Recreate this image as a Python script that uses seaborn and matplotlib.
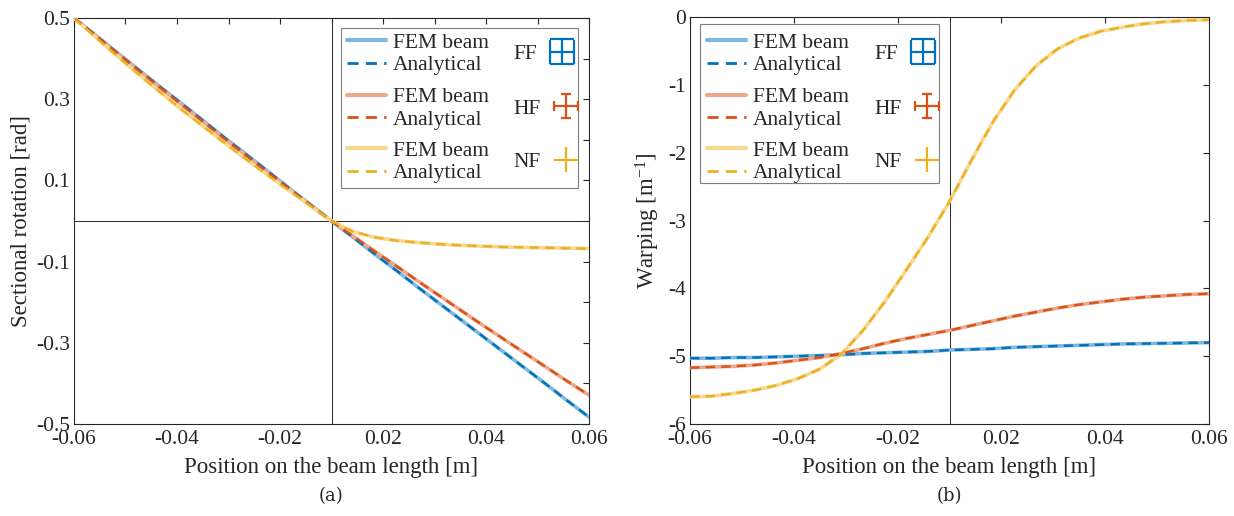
import numpy as np
import pandas as pd
import matplotlib
matplotlib.use("Agg")
import matplotlib.pyplot as plt
import seaborn as sns
from matplotlib.lines import Line2D
from matplotlib.patches import Rectangle
from matplotlib.legend import Legend
from matplotlib.container import ErrorbarContainer
from matplotlib.legend_handler import HandlerErrorbar

# ---------------- data ----------------
x_pos = [-0.060, -0.055, -0.050, -0.045, -0.040, -0.035, -0.030, -0.025, -0.020,
         -0.015, -0.010, -0.005, 0.000, 0.005, 0.010, 0.015, 0.020, 0.025,
         0.030, 0.035, 0.040, 0.045, 0.050, 0.055, 0.060]

rot_ff = [0.500, 0.458, 0.415, 0.373, 0.331, 0.290, 0.248, 0.206, 0.165, 0.124,
          0.082, 0.041, 0.000, -0.040, -0.081, -0.121, -0.162, -0.202, -0.242,
          -0.282, -0.322, -0.362, -0.402, -0.443, -0.483]
rot_hf = [0.500, 0.457, 0.414, 0.371, 0.329, 0.287, 0.245, 0.203, 0.162, 0.121,
          0.080, 0.040, 0.000, -0.037, -0.074, -0.110, -0.147, -0.183, -0.219,
          -0.255, -0.290, -0.325, -0.360, -0.395, -0.429]
rot_nf = [0.500, 0.453, 0.407, 0.362, 0.318, 0.275, 0.234, 0.193, 0.153, 0.114,
          0.076, 0.038, 0.000, -0.026, -0.040, -0.048, -0.053, -0.057, -0.060,
          -0.062, -0.064, -0.065, -0.066, -0.067, -0.068]

warp_ff = [-5.03, -5.03, -5.02, -5.02, -5.01, -5.00, -4.99, -4.98, -4.96, -4.95,
           -4.94, -4.93, -4.91, -4.90, -4.89, -4.87, -4.86, -4.85, -4.84, -4.83,
           -4.82, -4.815, -4.81, -4.805, -4.80]
warp_hf = [-5.17, -5.16, -5.15, -5.13, -5.10, -5.06, -5.02, -4.96, -4.89, -4.81,
           -4.74, -4.68, -4.62, -4.55, -4.48, -4.41, -4.35, -4.29, -4.24, -4.20,
           -4.16, -4.13, -4.11, -4.09, -4.08]
warp_nf = [-5.60, -5.59, -5.55, -5.50, -5.43, -5.33, -5.19, -4.97, -4.62, -4.20,
           -3.73, -3.25, -2.72, -2.12, -1.55, -1.08, -0.72, -0.47, -0.31, -0.21,
           -0.15, -0.10, -0.07, -0.05, -0.04]

cases = ["FF", "HF", "NF"]
legend_labels = ["FEM beam", "Analytical"]

x_ticks_a = np.linspace(-0.06, 0.06, 11)
x_ticklabels_a = ["-0.06", "", "-0.04", "", "-0.02", "", "0.02", "", "0.04", "", "0.06"]
x_ticks_b = np.linspace(-0.06, 0.06, 6)
x_ticklabels_b = ["-0.06", "-0.04", "-0.02", "0.02", "0.04", "0.06"]
y_ticks_a = np.round(np.arange(-0.5, 0.51, 0.1), 2)
y_ticklabels_a = ["-0.5", "", "-0.3", "", "-0.1", "", "0.1", "", "0.3", "", "0.5"]
y_ticks_b = np.arange(-6, 1, 1)
y_ticklabels_b = ["-6", "-5", "-4", "-3", "-2", "-1", "0"]

# ---------------- style ----------------
sns.set_theme(style="white")
plt.rcParams["font.family"] = ["Liberation Serif", "DejaVu Serif"]
plt.rcParams["mathtext.fontset"] = "custom"
plt.rcParams["mathtext.rm"] = "Liberation Serif"
plt.rcParams["mathtext.it"] = "Liberation Serif:italic"

dark = {"FF": "#0072BD", "HF": "#D95319", "NF": "#EDB120"}
light = {"FF": "#80B8DE", "HF": "#ECA98C", "NF": "#F6D88F"}
caps = {"FF": 8.3, "HF": 3.6, "NF": 0.0}
axis_col = "#262626"
tick_fs = 15.5
label_fs = 16.5
leg_fs = 15.5

fig = plt.figure(figsize=(12.34, 5.16), dpi=100)
ax_a = fig.add_axes([74 / 1234, 1 - 424 / 516, 515 / 1234, 406 / 516])
ax_b = fig.add_axes([690 / 1234, 1 - 424 / 516, 519 / 1234, 407 / 516])

df_a = pd.DataFrame({"x": x_pos, "FF": rot_ff, "HF": rot_hf, "NF": rot_nf})
df_b = pd.DataFrame({"x": x_pos, "FF": warp_ff, "HF": warp_hf, "NF": warp_nf})

dash = (0, (4.0, 2.6))

for ax, df in ((ax_a, df_a), (ax_b, df_b)):
    for c in cases:
        sns.lineplot(data=df, x="x", y=c, ax=ax, color=light[c], linewidth=2.6,
                     sort=False, zorder=3)
        sns.lineplot(data=df, x="x", y=c, ax=ax, color=dark[c], linewidth=1.7,
                     linestyle=dash, sort=False, zorder=4)
    ax.axvline(0, color=axis_col, lw=0.7, zorder=2)
    ax.set_xlim(-0.06, 0.06)
    for s in ax.spines.values():
        s.set_color(axis_col)
        s.set_linewidth(0.8)
    ax.tick_params(which="both", direction="in", top=True, right=True,
                   length=4, width=0.8, color=axis_col, labelsize=tick_fs,
                   labelcolor=axis_col, pad=3)
    ax.tick_params(axis="x", pad=4)
    ax.set_xlabel("Position on the beam length [m]", fontsize=label_fs,
                  color=axis_col, labelpad=6)

ax_a.axhline(0, color=axis_col, lw=0.7, zorder=2)
ax_a.set_ylim(-0.5, 0.5)
ax_a.set_xticks(x_ticks_a)
ax_a.set_xticklabels(x_ticklabels_a)
ax_a.set_yticks(y_ticks_a)
ax_a.set_yticklabels(y_ticklabels_a)
ax_a.set_ylabel("Sectional rotation [rad]", fontsize=label_fs, color=axis_col, labelpad=3)

ax_b.set_ylim(-6, 0)
ax_b.set_xticks(x_ticks_b)
ax_b.set_xticklabels(x_ticklabels_b)
ax_b.set_yticks(y_ticks_b)
ax_b.set_yticklabels(y_ticklabels_b)
ax_b.set_ylabel("Warping [m$^{\\mathrm{-1}}$]", fontsize=label_fs, color=axis_col,
                labelpad=4)

fig.text((74 + 515 / 2) / 1234, 1 - 496 / 516, "(a)", ha="center", va="center",
         fontsize=13, family=["DejaVu Serif"], color=axis_col)
fig.text((690 + 519 / 2) / 1234, 1 - 496 / 516, "(b)", ha="center", va="center",
         fontsize=13, family=["DejaVu Serif"], color=axis_col)


# ---------------- legends ----------------
def build_legend(ax, box, x_lines, x_case, y_centers):
    x0, y0, x1, y1 = box
    ax.add_patch(Rectangle((x0, y0), x1 - x0, y1 - y0, transform=ax.transAxes,
                           facecolor="white", edgecolor="#7f7f7f", lw=0.8,
                           zorder=10))
    for c, yc in zip(cases, y_centers):
        h = [Line2D([], [], color=light[c], lw=3.0),
             Line2D([], [], color=dark[c], lw=2.0, ls=dash)]
        leg = Legend(ax, h, legend_labels, loc="center left",
                     bbox_to_anchor=(x_lines, yc), bbox_transform=ax.transAxes,
                     frameon=False, fontsize=leg_fs, handlelength=1.8,
                     handletextpad=0.33, labelspacing=0.12, borderpad=0,
                     borderaxespad=0)
        leg.set_zorder(11)
        ax.add_artist(leg)
        eb = ax.errorbar([np.nan], [np.nan], xerr=[1], yerr=[1], fmt="none",
                         ecolor=dark[c], elinewidth=1.6, capsize=caps[c],
                         capthick=1.6)
        leg2 = Legend(ax, [eb], [c], loc="center left",
                      bbox_to_anchor=(x_case, yc), bbox_transform=ax.transAxes,
                      frameon=False, fontsize=leg_fs, handlelength=1.3,
                      handletextpad=0.5, borderpad=0, borderaxespad=0,
                      markerfirst=False,
                      handler_map={ErrorbarContainer: HandlerErrorbar(xerr_size=0.56)})
        leg2.set_zorder(11)
        ax.add_artist(leg2)


build_legend(ax_a, (0.518, 0.581, 0.979, 0.975), 0.530, 0.854,
             [1 - 36 / 406, 1 - 90.5 / 406, 1 - 144 / 406])
build_legend(ax_b, (0.019, 0.592, 0.480, 0.983), 0.033, 0.356,
             [1 - 37 / 407, 1 - 91.5 / 407, 1 - 145 / 407])

fig.savefig("out.png", dpi=100, facecolor="white")
